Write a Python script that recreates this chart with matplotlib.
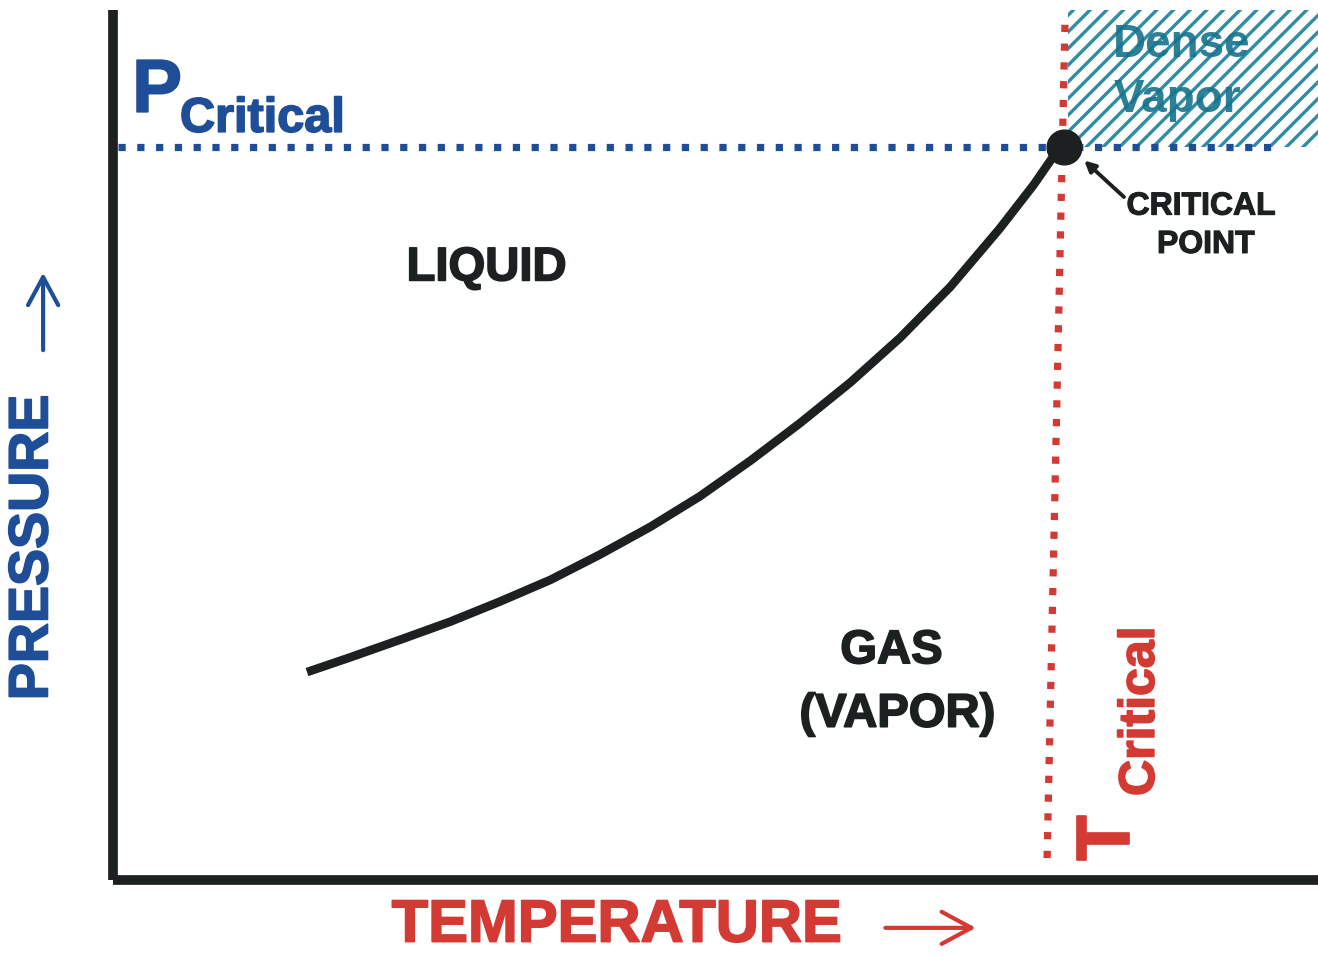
import matplotlib
matplotlib.use("Agg")
import matplotlib.pyplot as plt
from matplotlib.patches import Rectangle
import matplotlib.patheffects as pe

# ---- data (Temperature / Pressure in arbitrary 0-100 units) ----
curve_T = [16.1, 19.7, 23.8, 28.0, 32.1, 36.3, 40.4, 44.6, 48.7, 52.9,
           57.0, 61.2, 65.3, 69.5, 73.6, 76.4, 78.0, 78.9]
curve_P = [23.9, 25.6, 27.6, 29.7, 32.0, 34.5, 37.4, 40.6, 44.1, 48.2,
           52.5, 57.2, 62.3, 68.2, 74.9, 79.9, 83.1, 84.2]
T_crit = 78.9
P_crit = 84.2
p_line_T = [0.4, 96.4]          # extent of the P-critical dotted line
t_line_T = [79.0, 77.5]         # T-critical dotted line (top, bottom)
t_line_P = [98.3, 1.4]
dense_T = [79.25, 100.0]
dense_P = [P_crit, 100.0]

BLUE = "#1f4e99"
RED = "#d23a33"
DARK = "#1c2020"
TEAL = "#2f8ca6"
TEAL_TXT = "#17728c"

plt.rcParams['font.family'] = ['Liberation Sans', 'DejaVu Sans']
plt.rcParams['hatch.linewidth'] = 2.4
plt.rcParams['hatch.color'] = TEAL

W, H = 1318, 955
fig = plt.figure(figsize=(W / 100, H / 100), dpi=100)
ax = fig.add_axes([113 / W, (955 - 880) / H, (W - 113) / W, (880 - 10) / H])
ax.set_xlim(0, 100)
ax.set_ylim(0, 100)
ax.set_xticks([])
ax.set_yticks([])
for s in ['top', 'right']:
    ax.spines[s].set_visible(False)
for s in ['left', 'bottom']:
    ax.spines[s].set_linewidth(7)
    ax.spines[s].set_color(DARK)
    ax.spines[s].set_capstyle('butt')


def heavy(color, w=1.2):
    return [pe.withStroke(linewidth=w, foreground=color)]


# dense vapor hatched region
ax.add_patch(Rectangle((dense_T[0], dense_P[0]), dense_T[1] - dense_T[0],
                       dense_P[1] - dense_P[0], facecolor='white',
                       edgecolor=TEAL, hatch='//', linewidth=0, zorder=1))
ax.text(88.7, 96.0, "Dense", color=TEAL_TXT, fontsize=33, fontweight='bold',
        ha='center', va='center', alpha=0.9, zorder=2)
ax.text(88.3, 89.7, "Vapor", color=TEAL_TXT, fontsize=33, fontweight='bold',
        ha='center', va='center', alpha=0.9, zorder=2)

# dotted critical lines
ax.plot(p_line_T, [P_crit, P_crit], color=BLUE, lw=5.2,
        linestyle=(0, (1, 1.6)), zorder=3)
ax.plot(t_line_T, t_line_P, color=RED, lw=5.2,
        linestyle=(0, (1, 1.6)), zorder=3)

# vapor pressure curve + critical point
ax.plot(curve_T, curve_P, color=DARK, lw=6.2, solid_capstyle='butt',
        solid_joinstyle='round', zorder=4)
ax.plot([T_crit], [P_crit], 'o', color=DARK, ms=25, zorder=5)

ax.annotate("", xy=(80.6, 82.7), xytext=(83.9, 78.5),
            arrowprops=dict(arrowstyle='-|>', color=DARK, lw=2.8,
                            mutation_scale=16, shrinkA=0, shrinkB=0), zorder=5)
ax.text(90.3, 77.4, "CRITICAL", color=DARK, fontsize=23, fontweight='bold',
        ha='center', va='center', path_effects=heavy(DARK, 0.8))
ax.text(90.7, 73.0, "POINT", color=DARK, fontsize=23, fontweight='bold',
        ha='center', va='center', path_effects=heavy(DARK, 0.8))

# region labels
ax.text(31.0, 70.3, "LIQUID", color=DARK, fontsize=34, fontweight='bold',
        ha='center', va='center', path_effects=heavy(DARK))
ax.text(64.6, 26.3, "GAS", color=DARK, fontsize=34, fontweight='bold',
        ha='center', va='center', path_effects=heavy(DARK))
ax.text(65.1, 19.0, "(VAPOR)", color=DARK, fontsize=34, fontweight='bold',
        ha='center', va='center', path_effects=heavy(DARK))

# P critical label
ax.text(1.58, 88.3, "P", color=BLUE, fontsize=54, fontweight='bold',
        ha='left', va='baseline', path_effects=heavy(BLUE))
ax.text(5.56, 86.0, "Critical", color=BLUE, fontsize=35, fontweight='bold',
        ha='left', va='baseline', path_effects=heavy(BLUE))

# T critical label (rotated)
ax.text(82.7, 4.8, "T", color=RED, fontsize=54, fontweight='bold',
        ha='center', va='center', rotation=90, path_effects=heavy(RED))
ax.text(85.3, 19.4, "Critical", color=RED, fontsize=36, fontweight='bold',
        ha='center', va='center', rotation=90, path_effects=heavy(RED))

# axis labels
ARROW = '->, head_length=0.63, head_width=0.34'
ax.text(-6.6, 38.2, "PRESSURE", color=BLUE, fontsize=40, fontweight='bold',
        ha='center', va='center', rotation=90, clip_on=False,
        path_effects=heavy(BLUE))
ax.annotate("", xy=(-5.8, 69.8), xytext=(-5.8, 60.9), annotation_clip=False,
            arrowprops=dict(arrowstyle=ARROW, color=BLUE, lw=3.0,
                            mutation_scale=32, shrinkA=0, shrinkB=0))
ax.text(41.8, -5.3, "TEMPERATURE", color=RED, fontsize=43, fontweight='bold',
        ha='center', va='center', clip_on=False, path_effects=heavy(RED))
ax.annotate("", xy=(71.6, -5.5), xytext=(64.1, -5.5), annotation_clip=False,
            arrowprops=dict(arrowstyle=ARROW, color=RED, lw=3.0,
                            mutation_scale=34, shrinkA=0, shrinkB=0))

fig.savefig("out.png", dpi=100, facecolor='white')
